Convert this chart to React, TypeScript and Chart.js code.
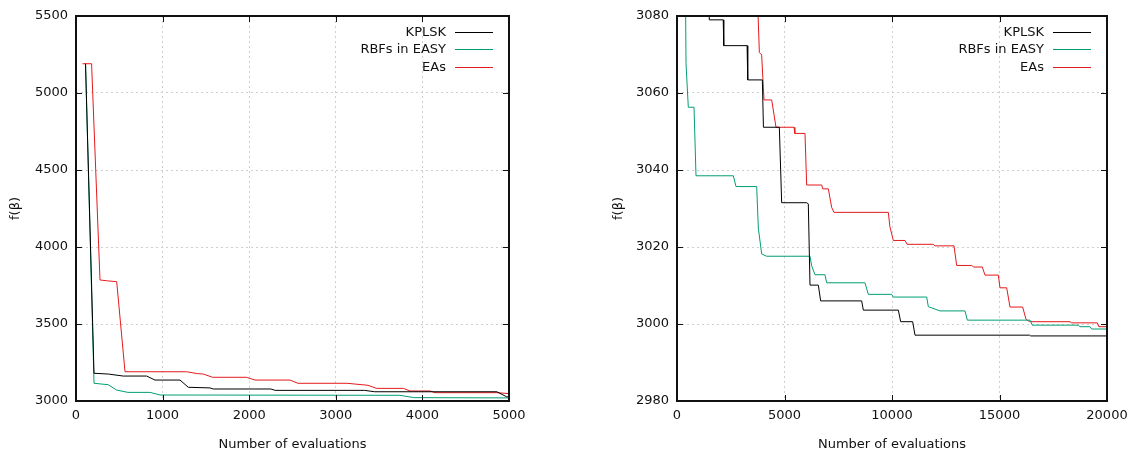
import React, { useEffect, useRef } from "react";
import { Chart, registerables } from "chart.js";

Chart.register(...registerables);

const seriesNames = ["KPLSK", "RBFs in EASY", "EAs"];
const seriesColors = ["#000000", "#009e73", "#e41a1c"];

// Left panel (0..5000 evaluations)
const leftKplskX = [110, 208, 373, 546, 816, 912, 1201, 1297, 1547, 1585, 2250, 2300, 3330, 3450, 4860, 4970, 5000];
const leftKplskY = [5190, 3180, 3175, 3162, 3162, 3136, 3136, 3089, 3085, 3078, 3078, 3069, 3069, 3060, 3060, 3028, 3026];
const leftRbfX = [110, 208, 370, 470, 600, 855, 970, 3740, 3900, 5000];
const leftRbfY = [5190, 3115, 3106, 3071, 3056, 3056, 3039, 3037, 3022, 3020];
const leftEaX = [75, 180, 277, 366, 470, 566, 1278, 1400, 1470, 1578, 1970, 2067, 2471, 2563, 3130, 3372, 3472, 3780, 3857, 4088, 4145, 4862, 5000];
const leftEaY = [5190, 5190, 3786, 3780, 3775, 3190, 3190, 3178, 3175, 3154, 3154, 3136, 3136, 3115, 3115, 3102, 3082, 3082, 3065, 3065, 3054, 3054, 3048];

// Right panel (0..20000 evaluations, zoomed)
const rightKplskX = [1000, 1290, 1480, 1502, 2150, 2175, 3260, 3290, 3970, 4020, 4760, 4868, 6030, 6108, 6186, 6574, 6682, 8589, 8667, 10295, 10403, 10961, 11070, 16400, 16450, 20000];
const rightKplskY = [3136, 3089, 3089, 3079, 3079, 3072.3, 3072.3, 3063.4, 3063.4, 3051.1, 3051.1, 3031.5, 3031.5, 3031.2, 3010.1, 3010.1, 3006, 3006, 3003.6, 3003.6, 3000.6, 3000.6, 2997.1, 2997.1, 2996.9, 2996.9];
const rightRbfX = [208, 370, 419, 526, 791, 884, 2620, 2744, 3707, 3783, 3938, 4171, 6186, 6264, 6419, 6884, 6961, 8744, 8899, 9984, 10062, 11612, 11690, 12233, 13395, 13504, 16419, 16527, 18665, 18744, 19209, 19287, 20000];
const rightRbfY = [3115, 3106, 3067.7, 3056.3, 3056.3, 3038.5, 3038.5, 3035.7, 3035.7, 3024.9, 3018.2, 3017.6, 3017.6, 3015.1, 3012.8, 3012.8, 3010.7, 3010.7, 3007.7, 3007.7, 3007.0, 3007.0, 3004.5, 3003.4, 3003.4, 3001.0, 3001.0, 2999.7, 2999.7, 2999.3, 2999.3, 2998.7, 2998.7];
const rightEaX = [3650, 3830, 3938, 4047, 4404, 4605, 5442, 5480, 5953, 6031, 6729, 6780, 7039, 7194, 7300, 9830, 9900, 10062, 10605, 10700, 11922, 12000, 12884, 13008, 13705, 13800, 14200, 14325, 14946, 15023, 15335, 15488, 16078, 16233, 16400, 18279, 18350, 19549, 19620, 20000];
const rightEaY = [3100, 3070.5, 3069.9, 3058.2, 3058.2, 3051.1, 3051.1, 3049.5, 3049.5, 3036.1, 3036.1, 3035.1, 3035.1, 3030.3, 3029, 3029, 3025.3, 3021.7, 3021.7, 3020.7, 3020.7, 3020.3, 3020.3, 3015.2, 3015.2, 3014.8, 3014.8, 3012.7, 3012.7, 3009.4, 3009.4, 3004.4, 3004.4, 3001.2, 3000.6, 3000.6, 3000.3, 3000.3, 2999.3, 2999.3];

const leftXTicks = [0, 1000, 2000, 3000, 4000, 5000];
const leftYTicks = [3000, 3500, 4000, 4500, 5000, 5500];
const rightXTicks = [0, 5000, 10000, 15000, 20000];
const rightYTicks = [2980, 3000, 3020, 3040, 3060, 3080];

const xTitle = "Number of evaluations";
const yTitle = "f(β)";
const FONT = "'DejaVu Sans', sans-serif";

const zip = (xs: number[], ys: number[]) => xs.map((x, i) => ({ x, y: ys[i] }));

const framePlugin = {
  id: "frame",
  afterDatasetsDraw(chart: any) {
    const { ctx, chartArea: a, scales } = chart;
    ctx.save();
    ctx.setLineDash([]);
    ctx.strokeStyle = "#111";
    ctx.lineWidth = 1;
    const tl = 6;
    ctx.beginPath();
    for (const t of scales.x.ticks) {
      const px = Math.round(scales.x.getPixelForValue(t.value)) + 0.5;
      ctx.moveTo(px, a.bottom);
      ctx.lineTo(px, a.bottom - tl);
      ctx.moveTo(px, a.top);
      ctx.lineTo(px, a.top + tl);
    }
    for (const t of scales.y.ticks) {
      const py = Math.round(scales.y.getPixelForValue(t.value)) + 0.5;
      ctx.moveTo(a.left, py);
      ctx.lineTo(a.left + tl, py);
      ctx.moveTo(a.right, py);
      ctx.lineTo(a.right - tl, py);
    }
    ctx.stroke();
    ctx.lineWidth = 2;
    ctx.strokeRect(a.left, a.top, a.right - a.left, a.bottom - a.top);
    // legend
    ctx.font = `13px ${FONT}`;
    ctx.textAlign = "right";
    ctx.textBaseline = "middle";
    for (let i = 0; i < seriesNames.length; i++) {
      const y = Math.round(a.top + 15.5 + i * 17.8) + 0.5;
      ctx.fillStyle = "#111";
      ctx.fillText(seriesNames[i], a.right - 63, y);
      ctx.beginPath();
      ctx.strokeStyle = seriesColors[i];
      ctx.lineWidth = 1.2;
      ctx.moveTo(a.right - 54, y);
      ctx.lineTo(a.right - 16, y);
      ctx.stroke();
    }
    ctx.restore();
  },
};

function makeConfig(
  xs: number[][],
  ys: number[][],
  xTicks: number[],
  yTicks: number[],
  yAxisWidth: number,
  yTitlePad: number,
  padRight: number
): any {
  const tickFont = { family: FONT, size: 13 };
  return {
    type: "line",
    data: {
      datasets: seriesNames.map((name, i) => ({
        label: name,
        data: zip(xs[i], ys[i]),
        borderColor: seriesColors[i],
        backgroundColor: seriesColors[i],
        borderWidth: 1,
        pointRadius: 0,
        tension: 0,
        fill: false,
      })),
    },
    options: {
      animation: false,
      responsive: false,
      events: [],
      layout: { padding: { left: 0, right: padRight, top: 16, bottom: 0 } },
      plugins: { legend: { display: false }, tooltip: { enabled: false } },
      scales: {
        x: {
          type: "linear",
          min: xTicks[0],
          max: xTicks[xTicks.length - 1],
          afterBuildTicks: (s: any) => {
            s.ticks = xTicks.map((v) => ({ value: v }));
          },
          afterFit: (s: any) => {
            s.height = 52;
          },
          ticks: { font: tickFont, color: "#111", padding: 7, maxRotation: 0, autoSkip: false, callback: (v: any) => String(v) },
          grid: { color: "#cfcfcf", drawTicks: false, lineWidth: 1 },
          border: { display: false, dash: [2, 3] },
          title: { display: true, text: xTitle, font: tickFont, color: "#111", padding: { top: 0, bottom: 1 } },
        },
        y: {
          type: "linear",
          min: yTicks[0],
          max: yTicks[yTicks.length - 1],
          afterBuildTicks: (s: any) => {
            s.ticks = yTicks.map((v) => ({ value: v }));
          },
          afterFit: (s: any) => {
            s.width = yAxisWidth;
          },
          ticks: { font: tickFont, color: "#111", padding: 8, autoSkip: false, callback: (v: any) => String(v) },
          grid: { color: "#cfcfcf", drawTicks: false, lineWidth: 1 },
          border: { display: false, dash: [2, 3] },
          title: { display: true, text: yTitle, font: tickFont, color: "#111", padding: { top: yTitlePad, bottom: 0 } },
        },
      },
    },
    plugins: [framePlugin],
  };
}

export default function App() {
  const leftRef = useRef<HTMLCanvasElement>(null);
  const rightRef = useRef<HTMLCanvasElement>(null);

  useEffect(() => {
    const left = new Chart(
      leftRef.current as HTMLCanvasElement,
      makeConfig([leftKplskX, leftRbfX, leftEaX], [leftKplskY, leftRbfY, leftEaY], leftXTicks, leftYTicks, 76, 8, 51)
    );
    const right = new Chart(
      rightRef.current as HTMLCanvasElement,
      makeConfig([rightKplskX, rightRbfX, rightEaX], [rightKplskY, rightRbfY, rightEaY], rightXTicks, rightYTicks, 77, 11, 30)
    );
    return () => {
      left.destroy();
      right.destroy();
    };
  }, []);

  return (
    <div style={{ position: "fixed", left: 0, top: 0, width: 1137, height: 453, background: "#fff" }}>
      <canvas ref={leftRef} width={560} height={453} style={{ position: "absolute", left: 0, top: 0, width: 560, height: 453 }} />
      <canvas ref={rightRef} width={537} height={453} style={{ position: "absolute", left: 600, top: 0, width: 537, height: 453 }} />
    </div>
  );
}
